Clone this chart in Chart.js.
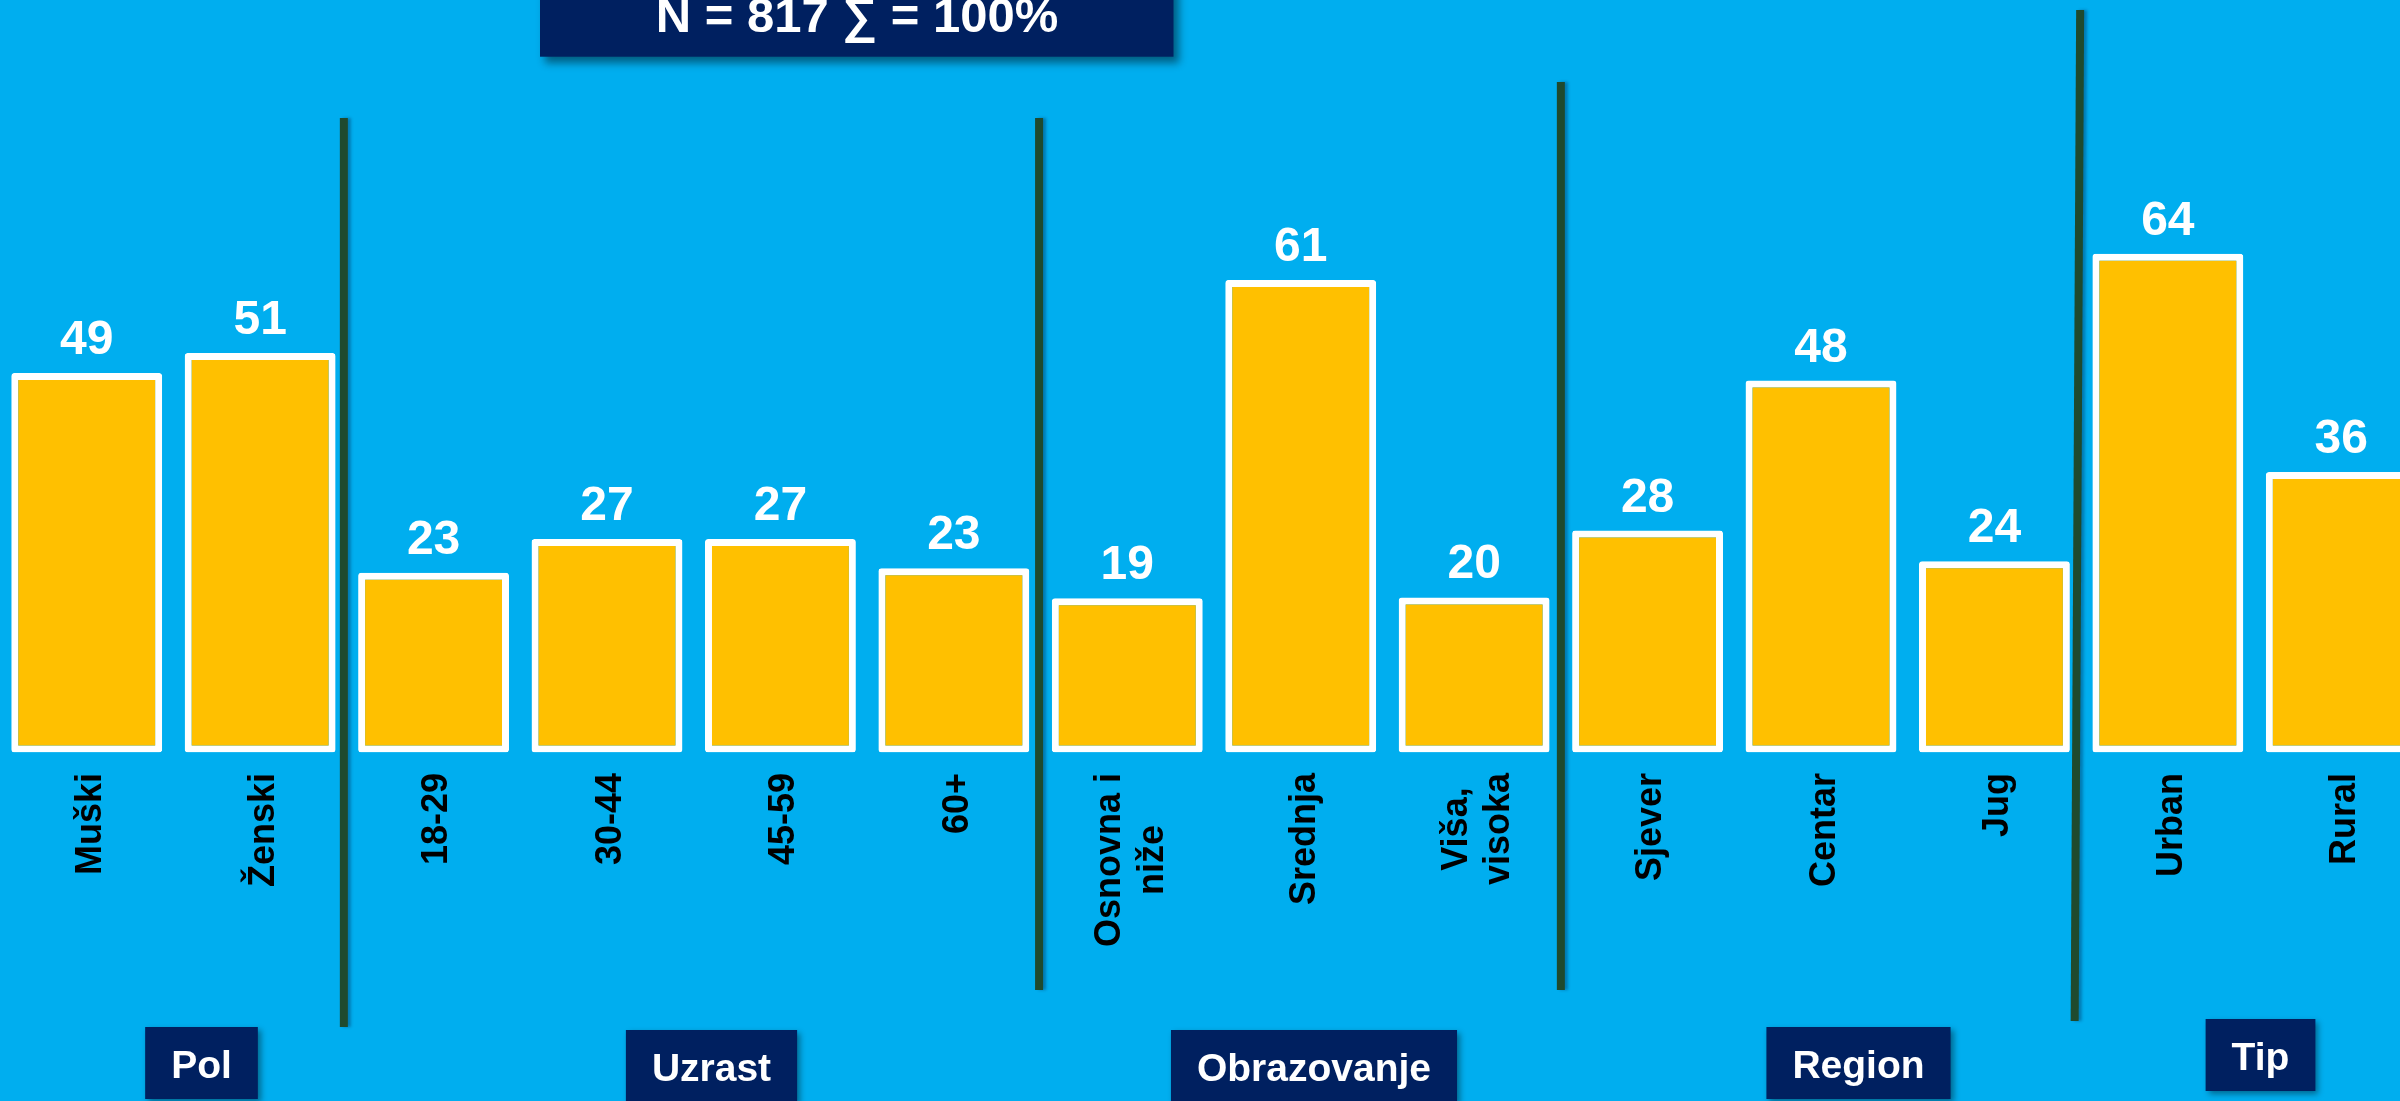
<!DOCTYPE html>
<html>
<head>
<meta charset="utf-8">
<script src="https://cdn.jsdelivr.net/npm/chart.js@4.4.1/dist/chart.umd.min.js"></script>
<style>
  html, body { margin:0; padding:0; background:#00AEEF; overflow:hidden; width:2400px; height:1101px; }
  #wrap { position:absolute; left:0; top:0; width:2428px; height:1101px; }
</style>
</head>
<body>
<div id="wrap"><canvas id="c" width="2428" height="1101"></canvas></div>
<script>
// ---------- data ----------
const categories = ['Muški', 'Ženski', '18-29', '30-44', '45-59', '60+',
  ['Osnovna i', 'niže'], 'Srednja', ['Viša,', 'visoka'],
  'Sjever', 'Centar', 'Jug', 'Urban', 'Rural'];
const values = [48.7, 51.3, 22.7, 27.1, 27.1, 23.3, 19.4, 60.8, 19.5, 28.2, 47.7, 24.2, 64.2, 35.8];
const valueLabels = [49, 51, 23, 27, 27, 23, 19, 61, 20, 28, 48, 24, 64, 36];
const groupNames = ['Pol', 'Uzrast', 'Obrazovanje', 'Region', 'Tip'];
const groupSizes = [2, 4, 3, 3, 2];
const totalLabel = 'N = 817 \u2211 = 100%';

// ---------- style / layout ----------
const FONT = '"Liberation Sans", Arial, Helvetica, sans-serif';
const BG = '#00AEEF', BAR = '#FFC000', NAVY = '#002060', SEP = '#1F4A2E';
const BASE = -0.65;
const sepLayout = [
  { top: 118, bottom: 1027, dxTop: -3, dxBottom: -3 },
  { top: 118, bottom: 990, dxTop: -1.5, dxBottom: -1.5 },
  { top: 82, bottom: 990, dxTop: 0, dxBottom: 0 },
  { top: 10, bottom: 1021, dxTop: -1, dxBottom: -6.5 }
];
const groupBoxLayout = [
  { cx: 201.5, top: 1027 }, { cx: 711.5, top: 1030 }, { cx: 1314, top: 1030 },
  { cx: 1858.5, top: 1027 }, { cx: 2260.5, top: 1019 }
];
const LH = 42.7;

const bgPlugin = {
  id: 'bg',
  beforeDraw(chart) {
    const c = chart.ctx; c.save(); c.fillStyle = BG;
    c.fillRect(0, 0, chart.width, chart.height); c.restore();
  }
};

const sepPlugin = {
  id: 'sep',
  afterDatasetsDraw(chart) {
    const x = chart.scales.x, c = chart.ctx;
    let idx = -1;
    groupSizes.slice(0, -1).forEach((n, g) => {
      idx += n;
      const bx = (x.getPixelForValue(idx) + x.getPixelForValue(idx + 1)) / 2;
      const s = sepLayout[g];
      c.save();
      c.strokeStyle = SEP; c.lineWidth = 8;
      c.shadowColor = 'rgba(0,30,70,0.35)'; c.shadowOffsetX = 3; c.shadowBlur = 3;
      c.beginPath(); c.moveTo(bx + s.dxTop, s.top); c.lineTo(bx + s.dxBottom, s.bottom); c.stroke();
      c.restore();
    });
  }
};

const valuePlugin = {
  id: 'vals',
  afterDatasetsDraw(chart) {
    const c = chart.ctx, meta = chart.getDatasetMeta(0);
    c.save();
    c.font = 'bold 48px ' + FONT; c.fillStyle = '#FFFFFF';
    c.textAlign = 'center'; c.textBaseline = 'alphabetic';
    meta.data.forEach((bar, i) => c.fillText(String(valueLabels[i]), bar.x, bar.y - 19));
    c.restore();
  }
};

const catPlugin = {
  id: 'cats',
  afterDraw(chart) {
    const c = chart.ctx, x = chart.scales.x;
    const top = chart.chartArea.bottom + 20.6;
    c.save();
    c.font = 'bold 36px ' + FONT; c.fillStyle = '#000000';
    categories.forEach((lab, i) => {
      const lines = Array.isArray(lab) ? lab : [lab];
      const px = x.getPixelForValue(i);
      const maxW = Math.max(...lines.map(l => c.measureText(l).width));
      c.save();
      c.translate(px, top); c.rotate(-Math.PI / 2);
      c.textBaseline = 'alphabetic'; c.textAlign = 'center';
      lines.forEach((l, k) => {
        const by = 13.9 - (lines.length - 1) * LH / 2 + k * LH;
        c.fillText(l, -maxW / 2, by);
      });
      c.restore();
    });
    c.restore();
  }
};

const boxPlugin = {
  id: 'boxes',
  afterDraw(chart) {
    const c = chart.ctx;
    // top total box
    c.save();
    c.shadowColor = 'rgba(0,0,0,0.45)'; c.shadowOffsetX = 5; c.shadowOffsetY = 6; c.shadowBlur = 8;
    c.fillStyle = NAVY; c.fillRect(540, -20, 633.5, 76.7);
    c.restore();
    c.save();
    c.font = 'bold 49px ' + FONT; c.fillStyle = '#FFFFFF';
    c.textAlign = 'center'; c.textBaseline = 'alphabetic';
    c.fillText(totalLabel, 857, 31.7);
    c.restore();
    // group boxes
    c.save();
    c.font = 'bold 39px ' + FONT;
    groupNames.forEach((name, g) => {
      const L = groupBoxLayout[g];
      const w = c.measureText(name).width + 52;
      c.save();
      c.shadowColor = 'rgba(0,0,0,0.4)'; c.shadowOffsetX = 3; c.shadowOffsetY = 3; c.shadowBlur = 6;
      c.fillStyle = NAVY; c.fillRect(L.cx - w / 2, L.top, w, 72);
      c.restore();
      c.fillStyle = '#FFFFFF'; c.textAlign = 'center'; c.textBaseline = 'alphabetic';
      c.fillText(name, L.cx, L.top + 51.3);
    });
    c.restore();
  }
};

new Chart(document.getElementById('c'), {
  type: 'bar',
  data: {
    labels: categories.map(l => Array.isArray(l) ? l.join(' ') : l),
    datasets: [{
      data: values,
      backgroundColor: BAR,
      borderColor: '#FFFFFF',
      borderWidth: 7,
      borderSkipped: false,
      borderRadius: 3,
      base: BASE,
      barPercentage: 0.87,
      categoryPercentage: 1
    }]
  },
  options: {
    responsive: false,
    animation: false,
    devicePixelRatio: 1,
    layout: { padding: 0 },
    plugins: { legend: { display: false }, tooltip: { enabled: false }, title: { display: false } },
    scales: {
      x: {
        display: true,
        grid: { display: false, drawTicks: false },
        border: { display: false },
        ticks: { display: false },
        afterFit(s) { s.height = 1101 - 752.4; }
      },
      y: { display: false, min: BASE, max: 97.2 }
    }
  },
  plugins: [bgPlugin, sepPlugin, valuePlugin, catPlugin, boxPlugin]
});
</script>
</body>
</html>
